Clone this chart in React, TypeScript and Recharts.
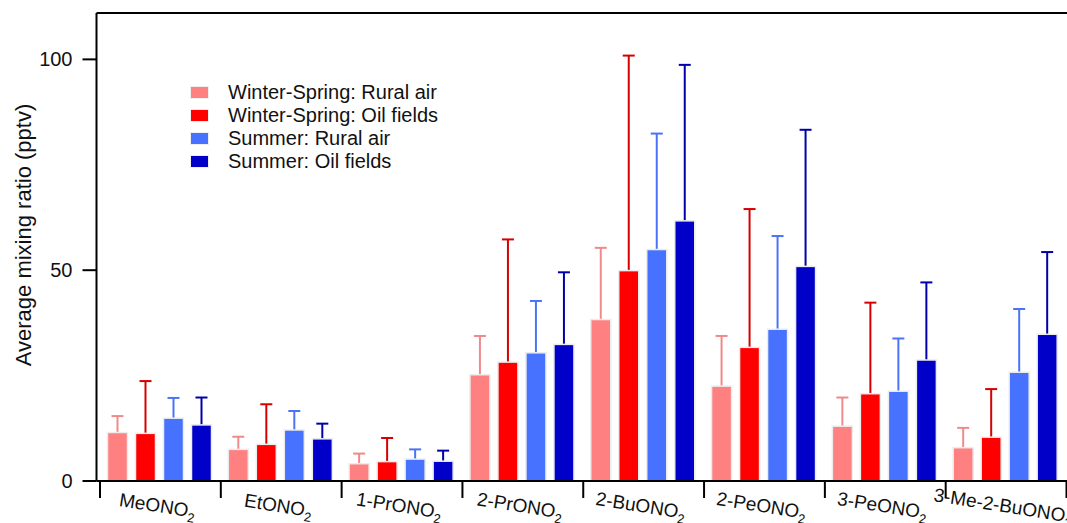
import React from 'react';
import { BarChart, Bar, XAxis, YAxis, Legend, ReferenceLine, Label } from 'recharts';

// nitrate species (the trailing "2" is drawn as a subscript)
const species = ['MeONO2', 'EtONO2', '1-PrONO2', '2-PrONO2', '2-BuONO2', '2-PeONO2', '3-PeONO2', '3-Me-2-BuONO2'];

// average mixing ratios (pptv)
const wsRural = [11.5, 7.5, 4.1, 25.2, 38.3, 22.5, 13.0, 7.9];
const wsOil = [11.3, 8.7, 4.6, 28.2, 49.9, 31.7, 20.7, 10.4];
const suRural = [14.9, 12.1, 5.2, 30.4, 54.9, 36.0, 21.3, 25.8];
const suOil = [13.3, 10.0, 4.7, 32.4, 61.7, 50.9, 28.7, 34.8];

// standard deviations (only drawn upward)
const wsRuralSd = [3.9, 3.0, 2.4, 9.2, 17.0, 11.9, 6.8, 4.7];
const wsOilSd = [12.4, 9.5, 5.6, 29.1, 51.0, 32.8, 21.6, 11.4];
const suRuralSd = [4.8, 4.5, 2.3, 12.3, 27.5, 22.1, 12.5, 15.0];
const suOilSd = [6.5, 3.6, 2.5, 17.1, 37.0, 32.4, 18.4, 19.5];

const yTicks = [0, 50, 100];
const yMax = 111;

const series = [
  { key: 'wsRural', name: 'Winter-Spring: Rural air', fill: '#ff8080', err: '#f08a8a' },
  { key: 'wsOil', name: 'Winter-Spring: Oil fields', fill: '#ff0000', err: '#d60000' },
  { key: 'suRural', name: 'Summer: Rural air', fill: '#4772ff', err: '#4a74f5' },
  { key: 'suOil', name: 'Summer: Oil fields', fill: '#0000c8', err: '#0000a8' },
];

const data = species.map((name, i) => ({
  name,
  wsRural: wsRural[i],
  wsOil: wsOil[i],
  suRural: suRural[i],
  suOil: suOil[i],
  wsRuralSd: wsRuralSd[i],
  wsOilSd: wsOilSd[i],
  suRuralSd: suRuralSd[i],
  suOilSd: suOilSd[i],
}));

const FONT = '"Liberation Sans", Arial, sans-serif';

// bar with a one-sided (upper) error bar, scaled off the bar's own pixel height
const barWithSd = (key: string, errColor: string) => (props: any) => {
  const { x, y, width, height, fill, payload } = props;
  const v = payload[key];
  const sd = payload[`${key}Sd`];
  const errPx = v > 0 ? (height * sd) / v : 0;
  const cx = x + width / 2;
  const top = y - errPx;
  return (
    <g>
      <line x1={cx} x2={cx} y1={y} y2={top} stroke={errColor} strokeWidth={2} />
      <line x1={cx - 6} x2={cx + 6} y1={top} y2={top} stroke={errColor} strokeWidth={2} />
      <rect x={x} y={y} width={width} height={height} fill={fill} stroke="#ececec" strokeWidth={1.5} />
    </g>
  );
};

const SpeciesTick = (props: any) => {
  const { x, y, payload, index } = props;
  const half = payload.offset || 60.4;
  const label: string = payload.value;
  const main = label.slice(0, -1);
  const sub = label.slice(-1);
  const cy = y + 25;
  return (
    <g>
      <line x1={x - half} x2={x - half} y1={y + 1} y2={y + 17} stroke="#000" strokeWidth={2} />
      {index === species.length - 1 && (
        <line x1={x + half} x2={x + half} y1={y + 1} y2={y + 17} stroke="#000" strokeWidth={2} />
      )}
      <text
        x={x - 3}
        y={cy + 6}
        textAnchor="middle"
        fontSize={19}
        fontFamily={FONT}
        fill="#111"
        transform={`rotate(9, ${x - 3}, ${cy})`}
      >
        {main}
        <tspan fontSize={13} dy={5}>{sub}</tspan>
      </text>
    </g>
  );
};

const LegendBox = () => (
  <div style={{ fontFamily: FONT, fontSize: 20, color: '#111' }}>
    {series.map((s) => (
      <div key={s.key} style={{ display: 'flex', alignItems: 'center', height: 23 }}>
        <span
          style={{
            display: 'inline-block',
            width: 17,
            height: 11,
            background: s.fill,
            border: '1px solid #eee',
            marginRight: 19,
          }}
        />
        <span style={{ lineHeight: '23px' }}>{s.name}</span>
      </div>
    ))}
  </div>
);

export default function App() {
  return (
    <div style={{ position: 'fixed', left: 0, top: 0, width: 1067, height: 523, overflow: 'hidden', background: '#fff' }}>
      <BarChart
        width={1075}
        height={523}
        data={data}
        margin={{ top: 13, right: 5, left: 0, bottom: 0 }}
        barCategoryGap={7.5}
        barGap={8}
      >
        <XAxis
          dataKey="name"
          height={42}
          interval={0}
          padding={{ left: 3.5, right: 3.5 }}
          axisLine={{ stroke: '#000', strokeWidth: 2 }}
          tickLine={false}
          tickSize={0}
          tickMargin={0}
          tick={<SpeciesTick />}
        />
        <YAxis
          width={96.5}
          domain={[0, yMax]}
          ticks={yTicks}
          allowDataOverflow
          axisLine={{ stroke: '#000', strokeWidth: 2 }}
          tickLine={{ stroke: '#000', strokeWidth: 2 }}
          tickSize={14}
          tickMargin={10}
          tick={{ fontSize: 20, fontFamily: FONT, fill: '#111' }}
        >
          <Label
            content={({ viewBox }: any) => {
              const cx = viewBox.x + 23;
              const cy = viewBox.y + viewBox.height / 2 - 12;
              return (
                <text
                  x={cx}
                  y={cy}
                  textAnchor="middle"
                  dominantBaseline="central"
                  fontSize={22}
                  fontFamily={FONT}
                  fill="#111"
                  transform={`rotate(-90, ${cx}, ${cy})`}
                >
                  Average mixing ratio (pptv)
                </text>
              );
            }}
          />
        </YAxis>
        <ReferenceLine y={yMax} stroke="#000" strokeWidth={2} />
        <Legend
          layout="vertical"
          verticalAlign="middle"
          align="center"
          wrapperStyle={{ left: 190, top: 81, width: 300 }}
          content={<LegendBox />}
        />
        {series.map((s) => (
          <Bar
            key={s.key}
            dataKey={s.key}
            name={s.name}
            fill={s.fill}
            shape={barWithSd(s.key, s.err)}
            isAnimationActive={false}
          />
        ))}
      </BarChart>
    </div>
  );
}
